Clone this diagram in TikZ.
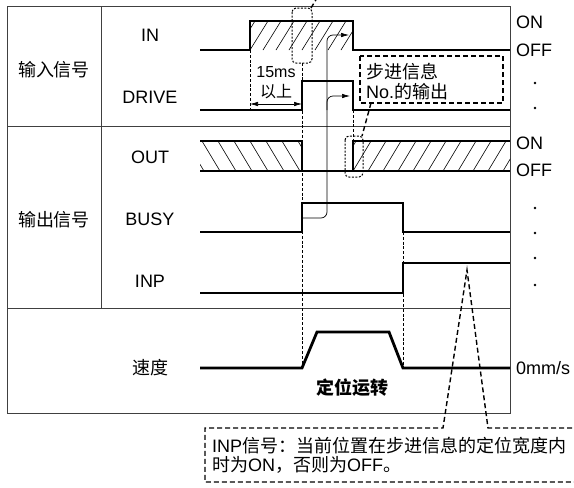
\documentclass[tikz,border=0pt]{standalone}
\usepackage{fontspec}
\setmainfont{Liberation Sans}
\newfontfamily\cjk{Noto Sans CJK SC}
\usetikzlibrary{arrows.meta}
\def\xl{200}
\def\xr{510}

\begin{document}
\begin{tikzpicture}[x=1pt, y=-1pt,
	frm/.style={line width=0.8pt, black!75},
	sig/.style={line width=2.8pt},
	hatch/.style={line width=0.6pt},
	fine/.style={line width=0.9pt, dash pattern=on 3pt off 1.8pt},
	ann/.style={line width=1.4pt, dash pattern=on 5pt off 3pt},
	dotbox/.style={line width=1pt, dash pattern=on 2pt off 1.5pt, rounded corners=4pt},
	thinarr/.style={line width=0.7pt},
	>={Latex[length=8pt,width=4.5pt]},
	every node/.style={inner sep=0pt, font=\fontsize{18}{20}\selectfont}]
	\useasboundingbox (0,0) rectangle (574,488);
	% frame
	\draw[frm] (7,6) rectangle (\xr,413);
	\draw[frm] (7,126) -- (\xr,126);
	\draw[frm] (7,308) -- (\xr,308);
	\draw[frm] (101,6) -- (101,308);
	% labels on the left
	\node (gIn) at (54,70) {\cjk 输入信号};
	\node (gOut) at (54,220) {\cjk 输出信号};
	\node (lIn) at (150,35) {IN};
	\node (lDrive) at (150,97) {DRIVE};
	\node (lOut) at (150,157) {OUT};
	\node (lBusy) at (150,219) {BUSY};
	\node (lInp) at (150,281) {INP};
	\node (lSpeed) at (150,368) {\cjk 速度};
	% labels on the right
	\node[anchor=west] (on1) at (516,22) {ON};
	\node[anchor=west] (off1) at (516,50) {OFF};
	\node[anchor=west] (on2) at (516,143) {ON};
	\node[anchor=west] (off2) at (516,170) {OFF};
	\node[anchor=west] (zero) at (516,368) {0mm/s};
	\foreach \y in {83,108,208,233,258,285}
		\fill (535,\y) circle (1.3pt);
	% timing guides
	\draw[fine] (250,50) -- (250,110);
	\draw[fine] (302,63) -- (302,368);
	\draw[fine] (353,110) -- (353,141);
	\draw[fine] (403,232) -- (403,368);
	% hatching
	\begin{scope}
		\clip (250,21) rectangle (353,50);
		\foreach \i in {224,237,...,360} \draw[hatch] (\i,50) -- (\i+18,21);
	\end{scope}
	\begin{scope}
		\clip (\xl,141) rectangle (302,171);
		\foreach \i in {186,202,...,310} \draw[hatch] (\i,141) -- (\i+18,171);
	\end{scope}
	\begin{scope}
		\clip (353,141) rectangle (\xr,171);
		\foreach \i in {338,353,...,515} \draw[hatch] (\i,171) -- (\i+18,141);
	\end{scope}
	% signals
	\draw[sig] (\xl,50) -- (250,50) -- (250,21) -- (353,21) -- (353,50) -- (\xr,50);
	\draw[sig] (\xl,110) -- (302,110) -- (302,81) -- (353,81) -- (353,110) -- (\xr,110);
	\draw[sig] (\xl,141) -- (302,141) -- (302,171);
	\draw[sig] (\xl,171) -- (\xr,171);
	\draw[sig] (353,171) -- (353,141) -- (\xr,141);
	\draw[sig] (\xl,232) -- (302,232) -- (302,203) -- (403,203) -- (403,232) -- (\xr,232);
	\draw[sig] (\xl,293) -- (403,293) -- (403,263) -- (\xr,263);
	\draw[sig] (\xl,368) -- (302,368) -- (317,332) -- (389,332) -- (403,368) -- (\xr,368);
	\node (run) at (352,388) {\cjk\bfseries 定位运转};
	% 15ms
	\draw[thinarr, <->] (250,104) -- (302,104);
	\node[font=\fontsize{16}{18}\selectfont] (t15) at (276,72) {15ms};
	\node[font=\fontsize{16}{18}\selectfont] (t15b) at (276,92) {\cjk 以上};
	% BUSY to IN / DRIVE
	\draw[thinarr, rounded corners=6pt, ->] (302,218) -- (327,218) -- (327,35) -- (349,35);
	\draw[thinarr, rounded corners=6pt, ->] (327,110) -- (327,96) -- (350,96);
	% notes
	\draw[dotbox] (292,8) rectangle (312,63);
	\draw[ann] (311,8) -- (317,-2);
	\draw[dotbox] (345,136) rectangle (363,177);
	\draw[ann] (360,56) rectangle (503,103);
	\draw[ann] (371,103) -- (362,136);
	\node[anchor=west] (step1) at (366,72) {\cjk 步进信息};
	\node[anchor=west] (step2) at (366,92) {No.{\cjk 的输出}};
	\draw[ann] (580,428) -- (488,428) -- (467,270) -- (443,428) -- (205,428) -- (205,482) -- (580,482);
	\node[anchor=west] (inp1) at (212,446) {INP{\cjk 信号：当前位置在步进信息的定位宽度内}};
	\node[anchor=west] (inp2) at (212,465) {{\cjk 时为}ON{\cjk ，否则为}OFF{\cjk 。}};
\end{tikzpicture}
\end{document}
